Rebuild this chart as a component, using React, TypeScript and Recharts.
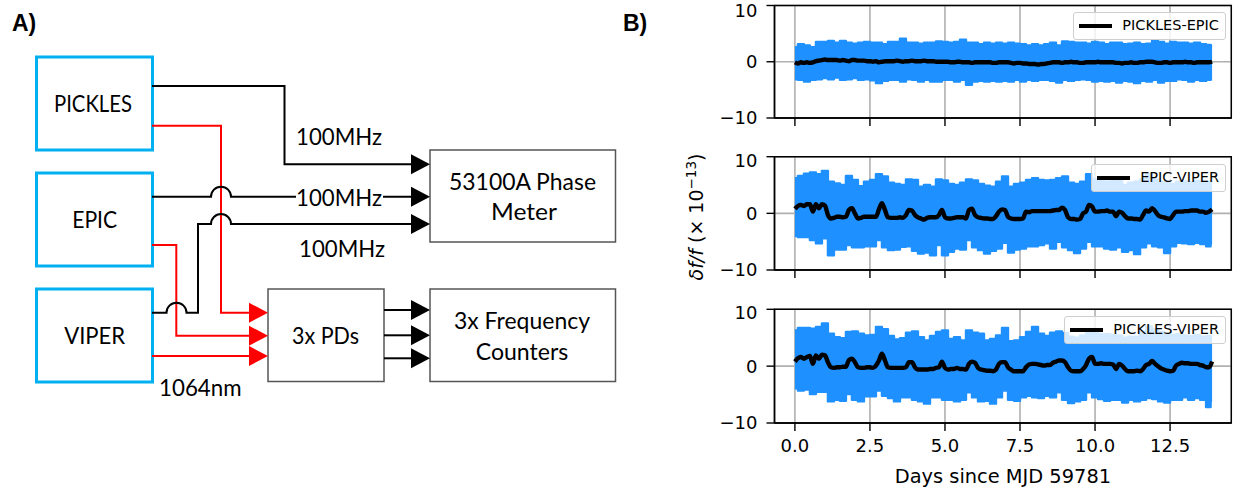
import { ComposedChart, Area, Line, XAxis, YAxis, CartesianGrid, ReferenceArea } from 'recharts';

const bandDays = [
  0, 0.2, 0.4, 0.6, 0.8, 1, 1.2, 1.4, 1.6, 1.8, 2, 2.2, 2.4, 2.6, 2.8, 3, 3.2, 3.4, 3.6, 3.8,
  4, 4.2, 4.4, 4.6, 4.8, 5, 5.2, 5.4, 5.6, 5.8, 6, 6.2, 6.4, 6.6, 6.8, 7, 7.2, 7.4, 7.6, 7.8,
  8, 8.2, 8.4, 8.6, 8.8, 9, 9.2, 9.4, 9.6, 9.8, 10, 10.2, 10.4, 10.6, 10.8, 11, 11.2, 11.4, 11.6, 11.8,
  12, 12.2, 12.4, 12.6, 12.8, 13, 13.2, 13.4, 13.6, 13.8, 13.9,
];

const lineDays = [
  0, 0.1, 0.2, 0.3, 0.4, 0.5, 0.6, 0.7, 0.8, 0.9,
  1, 1.1, 1.2, 1.3, 1.4, 1.5, 1.6, 1.7, 1.8, 1.9,
  2, 2.1, 2.2, 2.3, 2.4, 2.5, 2.6, 2.7, 2.8, 2.9,
  3, 3.1, 3.2, 3.3, 3.4, 3.5, 3.6, 3.7, 3.8, 3.9,
  4, 4.1, 4.2, 4.3, 4.4, 4.5, 4.6, 4.7, 4.8, 4.9,
  5, 5.1, 5.2, 5.3, 5.4, 5.5, 5.6, 5.7, 5.8, 5.9,
  6, 6.1, 6.2, 6.3, 6.4, 6.5, 6.6, 6.7, 6.8, 6.9,
  7, 7.1, 7.2, 7.3, 7.4, 7.5, 7.6, 7.7, 7.8, 7.9,
  8, 8.1, 8.2, 8.3, 8.4, 8.5, 8.6, 8.7, 8.8, 8.9,
  9, 9.1, 9.2, 9.3, 9.4, 9.5, 9.6, 9.7, 9.8, 9.9,
  10, 10.1, 10.2, 10.3, 10.4, 10.5, 10.6, 10.7, 10.8, 10.9,
  11, 11.1, 11.2, 11.3, 11.4, 11.5, 11.6, 11.7, 11.8, 11.9,
  12, 12.1, 12.2, 12.3, 12.4, 12.5, 12.6, 12.7, 12.8, 12.9,
  13, 13.1, 13.2, 13.3, 13.4, 13.5, 13.6, 13.7, 13.8, 13.9,
];

// PICKLES-EPIC
const peUpper = [
  2.6, 3.1, 2.9, 2.6, 3.5, 3.5, 3.7, 3.4, 3.7, 3.4, 3.2, 3.4, 3.5, 3.4, 3.4, 3.1, 3.5, 3.5, 4.1, 3.4,
  3.4, 3.2, 3.4, 3.4, 3.6, 3.5, 3.4, 3.5, 3.9, 3.4, 3.4, 3.1, 3.4, 3.2, 3.4, 3.2, 3.4, 3.2, 3.1, 2.9,
  3.1, 2.9, 3.1, 3.4, 2.9, 3.6, 3.5, 3.4, 3.4, 3.2, 3.5, 3.4, 3.1, 3.4, 3.4, 3.1, 3.2, 3.4, 3.1, 3.2,
  3.7, 3.5, 3.2, 3.5, 3.4, 3.4, 3.2, 3.4, 3.1, 3, 2.9,
];
const peLower = [
  -3.1, -3.2, -3.5, -3.2, -3.1, -2.9, -3.1, -2.8, -3.2, -3.1, -2.9, -3.2, -3.1, -3.3, -3.8, -3.4, -3.2, -3.2, -3.5, -3.1,
  -3.2, -3.5, -3.2, -3.5, -3.5, -3.2, -3.2, -3.5, -3.2, -4.1, -3.5, -3.4, -3.5, -3.4, -3.5, -3.4, -3.5, -3.2, -3.5, -3.2,
  -3.4, -3.2, -3.2, -3.4, -3.7, -3.2, -3.4, -3.2, -3.1, -3.2, -3.5, -3.4, -3.5, -3.4, -3.7, -3.4, -3.5, -3.8, -3.4, -3.5,
  -3.2, -3.7, -3.4, -3.4, -3.1, -3.2, -3.5, -3.2, -3.4, -3.2, -3.1,
];
const peMean = [
  -0.1, -0.3, -0.1, -0.2, -0.1, -0.2, -0.1, 0.1, 0.2, 0.3,
  0.4, 0.3, 0.3, 0.3, 0.3, 0.2, 0.3, 0.2, 0.1, 0.3,
  0.3, 0.2, 0.2, 0.2, 0.1, 0.1, 0, 0.1, -0.1, 0,
  0.1, 0.1, 0.1, 0.1, 0.2, 0.1, 0, 0.1, 0.1, 0.2,
  0.1, 0.1, 0.1, 0.2, 0.1, 0.1, 0.1, 0, 0, 0,
  0, 0, -0.1, -0.1, 0, 0, -0.1, -0.1, -0.1, -0.2,
  -0.1, -0.1, -0.1, -0.1, -0.1, -0.1, -0.2, -0.2, -0.1, -0.1,
  -0.1, -0.1, -0.2, -0.3, -0.2, -0.2, -0.3, -0.3, -0.4, -0.4,
  -0.4, -0.5, -0.4, -0.4, -0.3, -0.2, -0.1, -0.1, -0.1, -0.2,
  -0.1, -0.1, 0, -0.1, -0.1, -0.2, -0.2, -0.1, -0.1, -0.1,
  -0.1, 0, -0.1, -0.1, -0.1, -0.1, -0.1, -0.2, -0.2, -0.3,
  -0.2, -0.2, -0.1, -0.2, -0.2, -0.1, -0.1, 0, 0, 0,
  -0.1, -0.2, -0.2, -0.1, -0.1, -0.2, -0.1, -0.1, -0.1, -0.1,
  0, -0.1, -0.1, -0.2, -0.1, -0.1, -0.1, -0.1, -0.1, 0,
];

// EPIC-VIPER
const evUpper = [
  6.2, 6.6, 7, 7.2, 6.9, 7.5, 5.6, 5.3, 5, 6.6, 5.9, 4.8, 5.6, 5.9, 6.9, 6.5, 5.4, 5.2, 5, 6,
  5.9, 4.7, 5, 4.7, 6, 5.8, 5.2, 5, 5.4, 6, 5.8, 5.2, 4.9, 4.7, 5.6, 6.5, 4.7, 5.2, 5.4, 5.9,
  6.2, 5.9, 5.8, 5.9, 6.2, 6.5, 5.4, 5.2, 5.6, 6.9, 6, 5.8, 5.6, 5.7, 5.9, 5, 5.4, 5.6, 6, 6.9,
  6, 5.5, 5.4, 5.2, 5.6, 5.6, 5.5, 5.7, 5.6, 5.6, 5.6,
];
const evLower = [
  -4, -4.2, -4.2, -4.7, -5.3, -4.4, -7.4, -6.4, -6.4, -5.6, -6, -6, -5.8, -5.8, -4.7, -6, -6.5, -6.4, -5.9, -5.8,
  -6.6, -7.1, -6.9, -7.4, -5.6, -7.4, -6.8, -6.2, -6.4, -4.7, -6, -6.5, -7.1, -6.6, -6.2, -5.2, -6.9, -6.4, -6.2, -5.8,
  -5.8, -5.6, -5.3, -6.2, -5, -6, -6.5, -7, -6.2, -5, -5.8, -5.8, -6.2, -6.4, -6, -6.8, -6.5, -7.2, -6, -5.3,
  -5.8, -6, -7, -5.8, -5.2, -5.3, -5.4, -5.2, -5.4, -5.8, -5.3,
];
const evMean = [
  0.8, 1.3, 1.5, 1.3, 1.6, 1.6, 0.3, 1.6, 0.9, 1.6,
  1.4, -0.3, -0.9, -0.8, -0.6, -0.6, -0.7, -0.6, 0.6, 0.9,
  0, -0.9, -0.8, -0.6, -0.6, -0.6, -0.6, -0.6, 0.7, 1.8,
  0.6, -0.7, -0.8, -0.8, -0.8, -0.7, -0.8, -0.3, 0.6, 0.5,
  -0.3, -0.7, -0.9, -1.1, -0.8, -0.7, -0.7, -0.7, -0.3, 0.6,
  -0.7, -0.9, -0.9, -0.8, -0.7, -0.7, -0.7, -0.9, 0.6, 0.8,
  -0.3, -0.7, -0.8, -0.9, -0.9, -1, -1, -0.5, 0.3, 0.7,
  0.6, -0.6, -0.9, -1, -1, -1, -0.9, 0.3, 0.2, 0.4,
  0.4, 0.4, 0.4, 0.4, 0.4, 0.4, 0.5, 0.6, 0.6, 1,
  0.6, -0.7, -1, -1, -1.1, -1, 0, 0.3, 1.5, 1.2,
  0.3, 0.3, 0.4, 0.4, 0.5, 0.3, 0.3, -0.5, 0.3, 0.1,
  -0.5, -0.9, -0.9, -1, -1, -1.1, -0.3, 0.5, 0.3, 0.9,
  0.4, -0.3, -0.6, -0.7, -0.9, -1, -0.3, 0.3, 0.3, 0.3,
  0.4, 0.4, 0.5, 0.5, 0.5, 0.3, 0.3, 0.1, 0.3, 0.7,
];

// PICKLES-VIPER
const pvUpper = [
  6.3, 6.7, 6.7, 6.6, 6.9, 7.5, 5.7, 5.1, 4.9, 6, 6.1, 5.7, 5.4, 5.5, 6.9, 6.5, 5.3, 4.7, 4.9, 5.9,
  6.1, 5.1, 4.5, 5.3, 6, 6.3, 4.8, 5.1, 4.5, 6.3, 5.9, 5.7, 4.5, 4.8, 5.4, 6.7, 4.4, 4.5, 5.1, 6,
  6.9, 5.7, 5.3, 5.9, 6.1, 5.8, 5.2, 5, 5.4, 6.3, 6, 5.6, 5.6, 5.5, 5.4, 5, 5.2, 5.2, 6, 7,
  6.5, 6, 5.6, 5.5, 5.6, 5.4, 5.3, 5.5, 5.2, 5.3, 5.2,
];
const pvLower = [
  -3.9, -4.3, -4.1, -4.9, -4.5, -4.5, -6.2, -5.9, -6.1, -4.9, -5.9, -6.2, -5.3, -5.3, -4.3, -5.2, -5.6, -6.2, -5.5, -5.5,
  -5.9, -6.2, -6.6, -5.5, -5.5, -5.9, -5.9, -6.2, -5.9, -4.6, -5.5, -6.2, -6.1, -6.6, -5.5, -4.3, -5.9, -6.1, -5.5, -5.2,
  -5.5, -5.6, -5.2, -5.5, -4.6, -5.9, -6.5, -6.2, -5.9, -4.6, -5.5, -5.8, -6.1, -5.9, -5.9, -6.4, -5.9, -6.2, -5.9, -5.6,
  -5.8, -6.2, -6.4, -5.9, -5.9, -5.5, -5.9, -5.6, -5.9, -7.2, -6.1,
];
const pvMean = [
  0.8, 1.4, 1.6, 1.3, 1.6, 1.8, 0.4, 1.9, 1.3, 2,
  1.9, 0.7, -0.2, -0.3, -0.2, -0.2, -0.1, -0.1, 1.1, 1.3,
  0.7, -0.2, -0.3, -0.3, -0.2, -0.2, -0.3, 0.1, 1, 2.2,
  1, -0.2, -0.3, -0.3, -0.3, -0.3, -0.3, -0.2, 0.7, 0.7,
  -0.2, -0.6, -0.6, -0.6, -0.6, -0.5, -0.5, -0.3, -0.2, 0.8,
  -0.3, -0.6, -0.5, -0.5, -0.3, -0.5, -0.5, -0.6, 0.4, 0.8,
  0.6, -0.3, -0.6, -0.7, -0.8, -0.8, -0.9, -0.6, 0.4, 0.7,
  0.7, -0.2, -0.6, -0.9, -0.9, -0.9, -0.9, -0.2, 0.3, 0.4,
  0.4, 0.3, 0.2, 0.1, 0.2, 0.2, 0.6, 0.8, 1, 1,
  0.7, -0.2, -0.8, -0.9, -0.9, -0.9, -0.5, 0.2, 1.3, 1.6,
  0.4, 0.4, 0.5, 0.4, 0.4, 0.4, 0.3, -0.5, 0.4, 0.1,
  -0.5, -0.9, -0.9, -0.9, -0.8, -0.9, -0.5, 0.2, 0.4, 0.9,
  0.4, 0, -0.4, -0.6, -0.8, -0.9, -0.8, 0.1, 0.4, 0.6,
  0.5, 0.5, 0.4, 0.4, 0.4, 0.2, 0.1, -0.2, -0.2, 0.8,
];

const dayTicks = [0, 2.5, 5, 7.5, 10, 12.5];
const ratioTicks = [-10, 0, 10];
const dayDomain = [-0.68, 14.54];
const xAxisTitle = 'Days since MJD 59781';

const tickFont = { fontFamily: 'DejaVu Sans', fontSize: 18, fill: '#000' };

function Panel({ upper, lower, mean, top, marginTop, height, showLabels, name, legendLeft, legendTop, legendWidth }: any) {
  const bandRows = bandDays.map((day, i) => ({ day, range: [lower[i], upper[i]] }));
  const lineRows = lineDays.map((day, i) => ({ day, mean: mean[i] }));
  return (
    <>
      <div style={{ position: 'absolute', left: 700, top }}>
        <ComposedChart width={533} height={height} margin={{ top: marginTop, right: 1.7, bottom: 0, left: 0 }}>
          <CartesianGrid stroke="#b0b0b0" strokeWidth={1.6} />
          <XAxis
            type="number"
            dataKey="day"
            domain={dayDomain}
            ticks={dayTicks}
            height={showLabels ? 65 : 32}
            tickSize={8}
            tickMargin={8}
            stroke="#000"
            strokeWidth={1.4}
            allowDataOverflow
            tick={{ ...tickFont, stroke: 'none' }}
            tickFormatter={(v: number) => (showLabels ? v.toFixed(1) : '')}
            label={showLabels ? { value: xAxisTitle, position: 'insideBottom', offset: 5, ...tickFont, fontSize: 19.4 } : undefined}
          />
          <YAxis
            type="number"
            domain={[-10, 10]}
            ticks={ratioTicks}
            width={74.5}
            tickSize={8}
            tickMargin={9}
            stroke="#000"
            strokeWidth={1.4}
            tick={{ ...tickFont, stroke: 'none' }}
            tickFormatter={(v: number) => (v < 0 ? `\u2212${-v}` : `${v}`)}
          />
          <Area
            data={bandRows}
            dataKey="range"
            type="step"
            fill="#1e90ff"
            fillOpacity={1}
            stroke="#1e90ff"
            strokeWidth={2.4}
            strokeLinejoin="round"
            dot={false}
            activeDot={false}
            isAnimationActive={false}
          />
          <Line
            data={lineRows}
            dataKey="mean"
            type="monotone"
            stroke="#000"
            strokeWidth={4.4}
            strokeLinejoin="round"
            dot={false}
            activeDot={false}
            isAnimationActive={false}
          />
          <ReferenceArea
            x1={dayDomain[0]}
            x2={dayDomain[1]}
            y1={-10}
            y2={10}
            fill="none"
            stroke="#000"
            strokeWidth={1.4}
            ifOverflow="visible"
          />
        </ComposedChart>
      </div>
      <div
        style={{
          position: 'absolute',
          left: legendLeft,
          top: legendTop,
          width: legendWidth,
          height: 28,
          boxSizing: 'border-box',
          background: 'rgba(255,255,255,0.8)',
          border: '1.6px solid #cfcfcf',
          borderRadius: 3,
        }}
      >
        <div style={{ position: 'absolute', left: 5, top: 10.5, width: 33, height: 4, background: '#000' }} />
        <div
          style={{
            position: 'absolute',
            right: 6,
            top: 4,
            fontFamily: 'DejaVu Sans',
            fontSize: 14.5,
            lineHeight: '17px',
            whiteSpace: 'nowrap',
            color: '#000',
          }}
        >
          {name}
        </div>
      </div>
    </>
  );
}

const wireBlack = '#000';
const wireRed = '#ff0000';

function Arrow({ x, y, color }: any) {
  return <polygon points={`${x},${y} ${x - 19},${y - 10} ${x - 19},${y + 10}`} fill={color} />;
}

function Box({ x, y, w, h, color, sw }: any) {
  return <rect x={x} y={y} width={w} height={h} fill="#fff" stroke={color} strokeWidth={sw} />;
}

function Label({ x, y, w, children }: any) {
  return (
    <text
      x={x}
      y={y}
      fontFamily="Lato"
      fontSize={22.5}
      fill="#000"
      textAnchor="middle"
      dominantBaseline="central"
      textLength={w}
      lengthAdjust="spacingAndGlyphs"
    >
      {children}
    </text>
  );
}

function Schematic() {
  return (
    <svg width={690} height={488} style={{ position: 'absolute', left: 0, top: 0 }}>
      <text x={12} y={31} fontFamily="Liberation Sans" fontWeight="bold" fontSize={23}>A)</text>
      <text x={623} y={31} fontFamily="Liberation Sans" fontWeight="bold" fontSize={23}>B)</text>

      <Box x={36.5} y={57} w={116} h={93} color="#00b0f0" sw={3} />
      <Box x={36.5} y={173} w={116} h={93} color="#00b0f0" sw={3} />
      <Box x={36.5} y={289} w={116} h={93} color="#00b0f0" sw={3} />
      <Box x={430} y={150} w={185.5} h={92} color="#555" sw={1.5} />
      <Box x={268} y={289} w={116} h={92.5} color="#555" sw={1.5} />
      <Box x={430} y={289} w={185.5} h={92.5} color="#555" sw={1.5} />

      <g fill="none" stroke={wireRed} strokeWidth={2}>
        <path d="M152 125.7 H221 V312.7 H250" />
        <path d="M152 245 H176.3 V335.7 H250" />
        <path d="M152 356 H250" />
      </g>
      <g fill="none" stroke={wireBlack} strokeWidth={2}>
        <path d="M152 86 H284.5 V164.3 H412" />
        <path d="M152 196.7 H211 A10 10 0 0 1 231 196.7 H412" />
        <path d="M152 312.7 H166.5 A10 10 0 0 1 186.5 312.7 H198 V224 H211 A10 10 0 0 1 231 224 H412" />
        <path d="M384 310 H412" />
        <path d="M384 335.3 H412" />
        <path d="M384 358.3 H412" />
      </g>
      <Arrow x={430} y={164.3} color={wireBlack} />
      <Arrow x={430} y={196.7} color={wireBlack} />
      <Arrow x={430} y={224} color={wireBlack} />
      <Arrow x={430} y={310} color={wireBlack} />
      <Arrow x={430} y={335.3} color={wireBlack} />
      <Arrow x={430} y={358.3} color={wireBlack} />
      <Arrow x={268} y={312.7} color={wireRed} />
      <Arrow x={268} y={335.7} color={wireRed} />
      <Arrow x={268} y={356} color={wireRed} />

      <rect x={296} y={186} width={87} height={22} fill="#fff" />
      <Label x={93} y={103} w={78}>PICKLES</Label>
      <Label x={94.7} y={219} w={45}>EPIC</Label>
      <Label x={94.7} y={335} w={61}>VIPER</Label>
      <Label x={339} y={136} w={86}>100MHz</Label>
      <Label x={339} y={197} w={86}>100MHz</Label>
      <Label x={342} y={248} w={86}>100MHz</Label>
      <Label x={200.3} y={387.5} w={82.5}>1064nm</Label>
      <Label x={522.5} y={181.5} w={147}>53100A Phase</Label>
      <Label x={524} y={211.5} w={66}>Meter</Label>
      <Label x={325.5} y={335} w={67}>3x PDs</Label>
      <Label x={522} y={320.5} w={136}>3x Frequency</Label>
      <Label x={522} y={351} w={92.6}>Counters</Label>
    </svg>
  );
}

export default function App() {
  return (
    <div style={{ position: 'absolute', left: 0, top: 0, width: 1233, height: 488, background: '#fff', overflow: 'hidden' }}>
      <Schematic />
      <Panel upper={peUpper} lower={peLower} mean={peMean} top={0} marginTop={5.5} height={150} name="PICKLES-EPIC" legendLeft={1072.6} legendTop={12} legendWidth={153.4} />
      <Panel upper={evUpper} lower={evLower} mean={evMean} top={150} marginTop={6.7} height={152} name="EPIC-VIPER" legendLeft={1091} legendTop={164} legendWidth={135} />
      <Panel upper={pvUpper} lower={pvLower} mean={pvMean} top={302} marginTop={7.3} height={186} showLabels name="PICKLES-VIPER" legendLeft={1064} legendTop={316} legendWidth={162} />
      <svg width={40} height={488} style={{ position: 'absolute', left: 680, top: 0 }}>
        <text
          transform="translate(23,217) rotate(-90)"
          textAnchor="middle"
          fontFamily="DejaVu Sans"
          fontSize={19}
          fill="#000"
        >
          <tspan fontStyle="italic">{'\u03b4f/f'}</tspan>
          <tspan>{' (\u00d7 10'}</tspan>
          <tspan fontSize={13.5} dy={-7.5}>{'\u221213'}</tspan>
          <tspan dy={7.5}>)</tspan>
        </text>
      </svg>
    </div>
  );
}
